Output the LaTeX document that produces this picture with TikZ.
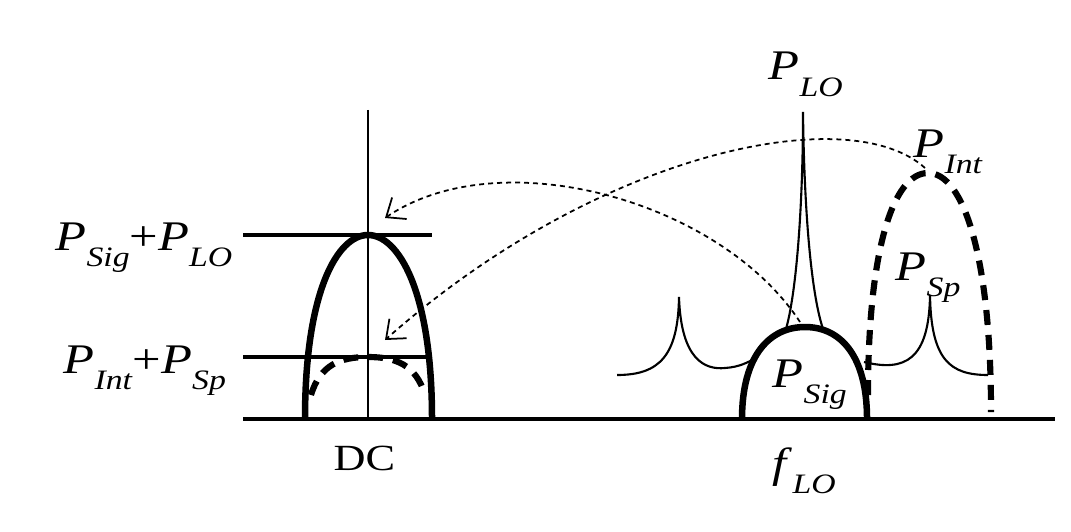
\documentclass[tikz,border=0pt]{standalone}
\usepackage{fontspec}
\setmainfont{Liberation Serif}[FakeStretch=1.2]
\usetikzlibrary{arrows.meta}
\newcommand{\pwr}[2]{\textit{#1}\raisebox{-0.38em}{\fontsize{8}{8}\selectfont\textit{#2}}}

\begin{document}
\begin{tikzpicture}[x=0.1mm, y=-0.1mm,
  lbl/.style={inner sep=0pt, anchor=base west, font=\fontsize{12}{14}\selectfont},
  axisline/.style={line width=1.05pt},
  spec/.style={line width=0.6pt},
  bump/.style={line width=1.85pt},
  bumpdash/.style={line width=1.75pt, dash pattern=on 1.5mm off 1mm},
  mixarrow/.style={line width=0.5pt, dash pattern=on 0.5mm off 0.4mm, -{Straight Barb[length=1.6mm, width=2.6mm]}}]
  \useasboundingbox (0,0) rectangle (1071,531);

  \node (sumhi) [lbl] at (55,250) {\pwr{P}{Sig}+\pwr{P}{LO}};
  \node (sumlo) [lbl] at (63,373) {\pwr{P}{Int}+\pwr{P}{Sp}};
  \node (dc) [lbl, font=\fontsize{10.5}{12}\selectfont] at (333,470) {DC};
  \node (flo) [lbl] at (772,477) {\pwr{f}{LO}};
  \node (plo) [lbl] at (768,80) {\pwr{P}{LO}};
  \node (pint) [lbl] at (913,157) {\pwr{P}{Int}};
  \node (psp) [lbl] at (895,280) {\pwr{P}{Sp}};
  \node (psig) [lbl] at (772,387) {\pwr{P}{Sig}};

  \coordinate (sigtop) at (800,322);
  \coordinate (inttop) at (925,168);
  \coordinate (dchi) at (385,218);
  \coordinate (dclo) at (385,340);

  \draw[axisline] (243,419) -- (1055,419);
  \draw[axisline] (243,235) -- (432,235);
  \draw[axisline] (243,357) -- (432,357);
  \draw[spec] (368,110) -- (368,419);

  \draw[bump] (305,419) .. controls (305,290) and (338,235) .. (368,235)
    .. controls (398,235) and (432,290) .. (432,419);
  \draw[bumpdash] (311,395) .. controls (320,365) and (340,357) .. (368,357)
    .. controls (396,357) and (416,365) .. (425,395);

  \draw[spec] (617,375) .. controls (660,375) and (678,355) .. (679,297)
    .. controls (681,360) and (705,370) .. (725,368)
    .. controls (740,367) and (748,362) .. (754,359);
  \draw[spec] (864,362) .. controls (905,372) and (929,360) .. (930,295)
    .. controls (931,360) and (950,375) .. (988,375);
  \draw[spec] (786,329) .. controls (797,290) and (803,200) .. (803,112)
    .. controls (804,200) and (810,290) .. (823,329);

  \draw[bump] (742,419) .. controls (742,355) and (770,327) .. (805,327)
    .. controls (840,327) and (867,355) .. (867,419);
  \draw[bumpdash] (868,395) .. controls (868,250) and (893,173) .. (928,173)
    .. controls (963,173) and (991,255) .. (991,412);

  \draw[mixarrow] (sigtop) .. controls (720,200) and (500,140) .. (dchi);
  \draw[mixarrow] (inttop) .. controls (850,100) and (600,150) .. (dclo);
\end{tikzpicture}
\end{document}
